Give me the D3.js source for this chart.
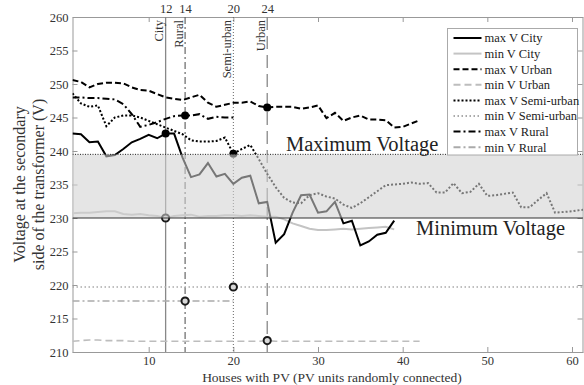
<!DOCTYPE html>
<meta charset="utf-8">
<style>
body { margin: 0; background: #fff; }
svg { font-family: "Liberation Serif", "Times New Roman", Times, serif; }
.axis text { font-size: 12.5px; fill: #333; font-family: "Liberation Serif", "Times New Roman", Times, serif; }
.axis .domain, .axis line { stroke: #999; }
.series { fill: none; }
</style>
<svg width="584" height="385"></svg>
<script src="https://cdn.jsdelivr.net/npm/d3@7"></script>
<script>
// each series starts at house 1, one value per added PV house
var maxCity = [242.6, 242.5, 241.3, 241.4, 239.2, 239.4, 240.3, 241.3, 241.8, 242.4,
  241.9, 242.6, 242.6, 239.0, 236.1, 236.5, 238.2, 236.2, 236.6, 235.1,
  236.0, 236.3, 232.2, 232.4, 226.3, 227.6, 230.8, 233.4, 233.5, 230.8,
  231.0, 232.4, 229.2, 229.6, 225.9, 226.5, 227.5, 227.8, 229.6];
var minCity = [230.7, 230.8, 230.8, 230.9, 231.0, 231.0, 230.6, 230.5, 230.6, 230.4,
  230.3, 230.0, 230.3, 230.4, 230.5, 230.2, 230.3, 230.3, 230.4, 230.4,
  230.3, 230.4, 230.3, 230.2, 230.2, 229.8, 229.2, 228.8, 228.4, 228.2,
  228.2, 228.3, 228.4, 228.3, 228.4, 228.5, 228.6, 228.7, 228.3];
var maxUrban = [250.6, 250.3, 249.5, 250.0, 250.2, 250.2, 250.1, 249.5, 249.1, 249.0,
  248.5, 248.0, 247.8, 247.6, 248.0, 248.4, 247.2, 246.6, 246.9, 247.2,
  247.2, 247.4, 246.7, 246.5, 246.6, 246.6, 246.6, 246.3, 246.5, 246.8,
  244.9, 245.7, 244.5, 245.0, 245.3, 244.7, 244.7, 244.6, 243.5, 243.6,
  244.1, 244.6];
var minUrban = [211.6, 211.7, 211.8, 211.8, 211.7, 211.7, 211.7, 211.6, 211.6, 211.6,
  211.6, 211.6, 211.6, 211.6, 211.6, 211.6, 211.6, 211.6, 211.6, 211.6,
  211.6, 211.6, 211.6, 211.7, 211.6, 211.6, 211.6, 211.6, 211.6, 211.6,
  211.6, 211.6, 211.6, 211.6, 211.6, 211.6, 211.6, 211.6, 211.6, 211.6,
  211.6, 211.6];
var maxSemi = [248.6, 247.1, 246.6, 246.8, 243.7, 245.0, 245.3, 245.3, 245.0, 244.5,
  244.0, 243.5, 243.0, 242.5, 241.6, 241.4, 241.4, 241.5, 242.0, 239.6,
  240.3, 240.9, 238.8, 236.6, 234.6, 233.0, 232.3, 232.2, 233.4, 233.7,
  233.2, 232.9, 232.0, 231.5, 232.2, 233.1, 234.0, 234.9, 235.0, 235.1,
  235.3, 235.1, 235.2, 233.8, 233.8, 235.2, 233.7, 233.9, 235.1, 233.3,
  233.4, 233.6, 233.8, 231.6, 231.6, 232.7, 233.7, 230.8, 230.9, 231.0,
  231.2, 231.3];
var minSemi = [219.7, 219.7, 219.7, 219.7, 219.7, 219.7, 219.7, 219.7, 219.7, 219.7,
  219.7, 219.7, 219.7, 219.7, 219.7, 219.7, 219.7, 219.7, 219.7, 219.7,
  219.7, 219.7, 219.7, 219.7, 219.7, 219.7, 219.7, 219.7, 219.7, 219.7,
  219.7, 219.7, 219.7, 219.7, 219.7, 219.7, 219.7, 219.7, 219.7, 219.7,
  219.7, 219.7, 219.7, 219.7, 219.7, 219.7, 219.7, 219.7, 219.7, 219.7,
  219.7, 219.7, 219.7, 219.7, 219.7, 219.7, 219.7, 219.7, 219.7, 219.7,
  219.7, 219.7];
var maxRural = [248.0, 248.0, 247.9, 247.9, 247.8, 247.7, 247.0, 245.5, 243.6, 243.9,
  244.3, 244.8, 245.2, 245.3, 245.3, 245.5, 244.8, 245.1, 245.0, 245.0];
var minRural = [217.6, 217.6, 217.6, 217.6, 217.6, 217.6, 217.6, 217.6, 217.6, 217.6,
  217.6, 217.6, 217.6, 217.6, 217.6, 217.6, 217.6, 217.6, 217.6, 217.6];

// houses where each network type first violates a limit
var markerNames = ["City", "Rural", "Semi-urban", "Urban"];
var markerHouses = [12, 14.3, 20, 24];
var markerTicks = ["12", "14", "20", "24"];
var markerMax = [242.6, 245.3, 239.6, 246.5];
var markerMin = [230.0, 217.6, 219.7, 211.7];

var vMax = 239.5, vMin = 230;

var xTicks = [10, 20, 30, 40, 50, 60];
var yTicks = [210, 215, 220, 225, 230, 235, 240, 245, 250, 255, 260];

var svg = d3.select("svg"),
    margin = {top: 17, right: 1, bottom: 33, left: 72.5},
    W = +svg.attr("width"),
    H = +svg.attr("height");

var x = d3.scaleLinear().domain([1, 61.3]).range([margin.left, W - margin.right]),
    y = d3.scaleLinear().domain([210, 260]).range([H - margin.bottom, margin.top]);

svg.append("defs").append("clipPath")
    .attr("id", "clip")
  .append("rect")
    .attr("x", x.range()[0])
    .attr("y", y.range()[1])
    .attr("width", x.range()[1] - x.range()[0])
    .attr("height", y.range()[0] - y.range()[1]);

// axes, ticks pointing inward
svg.append("g").attr("class", "axis")
    .attr("transform", "translate(0," + y.range()[0] + ")")
    .call(d3.axisBottom(x).tickValues(xTicks).tickSizeInner(-5).tickSizeOuter(0).tickPadding(4));
svg.append("g").attr("class", "axis")
    .attr("transform", "translate(0," + y.range()[1] + ")")
    .call(d3.axisTop(x).tickValues(xTicks).tickSizeInner(-5).tickSizeOuter(0).tickFormat(""));
svg.append("g").attr("class", "axis")
    .attr("transform", "translate(" + x.range()[0] + ",0)")
    .call(d3.axisLeft(y).tickValues(yTicks).tickSizeInner(-5).tickSizeOuter(0).tickPadding(4));
svg.append("g").attr("class", "axis")
    .attr("transform", "translate(" + (x.range()[1] - 0.5) + ",0)")
    .call(d3.axisRight(y).tickValues(yTicks).tickSizeInner(-5).tickSizeOuter(0).tickFormat(""));

// labels of the marker houses above the frame
svg.append("g").attr("class", "axis")
    .attr("transform", "translate(0," + y.range()[1] + ")")
    .call(d3.axisTop(x).tickValues(markerHouses).tickSize(0).tickPadding(4)
      .tickFormat(function(d, i) { return markerTicks[i]; }))
    .call(function(g) { g.select(".domain").remove(); });

var plot = svg.append("g").attr("clip-path", "url(#clip)");

// vertical marker lines
var vStyles = [
  {dash: null, color: "#888", w: 1.3},
  {dash: "7,3,2,3", color: "#666", w: 1.2},
  {dash: "1,2", color: "#666", w: 1},
  {dash: "13,6", color: "#888", w: 1.3}
];
plot.selectAll(".vline")
    .data(markerHouses)
  .enter().append("line")
    .attr("class", "vline")
    .attr("x1", function(d) { return x(d); })
    .attr("x2", function(d) { return x(d); })
    .attr("y1", y.range()[1])
    .attr("y2", y.range()[0])
    .style("stroke", function(d, i) { return vStyles[i].color; })
    .style("stroke-width", function(d, i) { return vStyles[i].w; })
    .style("stroke-dasharray", function(d, i) { return vStyles[i].dash; });

var line = d3.line()
    .x(function(d, i) { return x(i + 1); })
    .y(function(d) { return y(d); });

var series = [
  {name: "max V City", values: maxCity, color: "#000", w: 2, dash: null},
  {name: "min V City", values: minCity, color: "#c4c4c4", w: 2, dash: null},
  {name: "max V Urban", values: maxUrban, color: "#000", w: 2, dash: "6,3"},
  {name: "min V Urban", values: minUrban, color: "#bdbdbd", w: 1.6, dash: "7,4"},
  {name: "max V Semi-urban", values: maxSemi, color: "#000", w: 2, dash: "2,2"},
  {name: "min V Semi-urban", values: minSemi, color: "#aaa", w: 1.5, dash: "1.5,2.5"},
  {name: "max V Rural", values: maxRural, color: "#000", w: 2, dash: "7,3,2,3"},
  {name: "min V Rural", values: minRural, color: "#aaa", w: 1.5, dash: "7,3,2,3"}
];

// draw min ones first so max ones sit on top
var drawOrder = [1, 3, 5, 7, 0, 2, 4, 6];
drawOrder.forEach(function(k) {
  var s = series[k];
  plot.append("path")
      .datum(s.values)
      .attr("class", "series")
      .attr("d", line)
      .style("stroke", s.color)
      .style("stroke-width", s.w)
      .style("stroke-dasharray", s.dash);
});

// markers
plot.selectAll(".dotMax")
    .data(markerHouses)
  .enter().append("circle")
    .attr("class", "dotMax")
    .attr("r", 4)
    .attr("cx", function(d) { return x(d); })
    .attr("cy", function(d, i) { return y(markerMax[i]); })
    .style("fill", "#000");

plot.selectAll(".dotMin")
    .data(markerHouses)
  .enter().append("circle")
    .attr("class", "dotMin")
    .attr("r", 3.6)
    .attr("cx", function(d) { return x(d); })
    .attr("cy", function(d, i) { return y(markerMin[i]); })
    .style("fill", "#d8d8d8")
    .style("stroke", "#1a1a1a")
    .style("stroke-width", 2);

// acceptable voltage band, drawn over the lines
plot.append("rect")
    .attr("x", x.range()[0])
    .attr("width", x.range()[1] - x.range()[0])
    .attr("y", y(vMax))
    .attr("height", y(vMin) - y(vMax))
    .style("fill", "rgb(210,210,210)")
    .style("opacity", 0.57);

plot.append("line")
    .attr("x1", x.range()[0]).attr("x2", x.range()[1])
    .attr("y1", y(vMax)).attr("y2", y(vMax))
    .style("stroke", "#222").style("stroke-width", 1).style("stroke-dasharray", "1,1.5");
plot.append("line")
    .attr("x1", x.range()[0]).attr("x2", x.range()[1])
    .attr("y1", y(vMin)).attr("y2", y(vMin))
    .style("stroke", "#333").style("stroke-width", 1.2);

svg.append("text")
    .attr("x", 286).attr("y", y(vMax) - 3)
    .style("font-size", "20.5px").style("fill", "#222")
    .text("Maximum Voltage");
svg.append("text")
    .attr("x", 416).attr("y", y(vMin) + 17)
    .style("font-size", "20.5px").style("fill", "#222")
    .text("Minimum Voltage");

// rotated names beside the vertical lines
svg.selectAll(".vlabel")
    .data(markerHouses)
  .enter().append("text")
    .attr("class", "vlabel")
    .attr("transform", function(d) { return "translate(" + (x(d) - 2.5) + "," + (y.range()[1] + 3) + ") rotate(-90)"; })
    .attr("text-anchor", "end")
    .style("font-size", "12.5px")
    .style("fill", "#333")
    .text(function(d, i) { return markerNames[i]; });

// axis titles
var yTitle = svg.append("text")
    .attr("transform", "translate(25," + ((y.range()[0] + y.range()[1]) / 2) + ") rotate(-90)")
    .attr("text-anchor", "middle")
    .style("font-size", "16px").style("fill", "#333");
yTitle.append("tspan").attr("x", 0).attr("dy", 0).text("Voltage at the secondary");
yTitle.append("tspan").attr("x", 0).attr("dy", 19).text("side of the transformer (V)");

svg.append("text")
    .attr("x", 332).attr("y", 382)
    .attr("text-anchor", "middle")
    .style("font-size", "13.5px").style("fill", "#333")
    .text("Houses with PV (PV units randomly connected)");

// legend
var legend = svg.append("g").attr("transform", "translate(447.5,28.5)");
legend.append("rect")
    .attr("width", 130).attr("height", 126.5)
    .style("fill", "#fff").style("stroke", "#aaa");
var row = legend.selectAll(".row")
    .data(series)
  .enter().append("g")
    .attr("class", "row")
    .attr("transform", function(d, i) { return "translate(0," + (9.5 + i * 15.6) + ")"; });
row.append("line")
    .attr("x1", 6).attr("x2", 34)
    .style("stroke", function(d) { return d.color; })
    .style("stroke-width", 2)
    .style("stroke-dasharray", function(d) { return d.dash; });
row.append("text")
    .attr("x", 37).attr("dy", "0.35em")
    .style("font-size", "12.5px").style("fill", "#222")
    .text(function(d) { return d.name; });
</script>
